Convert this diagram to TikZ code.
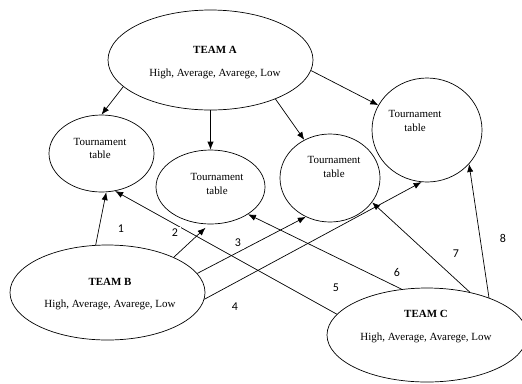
\documentclass[tikz,border=0pt]{standalone}
\usepackage{fontspec}
\setmainfont{Liberation Serif}
\newfontfamily\numfont{Carlito}
\usetikzlibrary{arrows.meta,shapes.geometric}
\tikzset{
  flow/.style={-{Latex[length=2.8mm,width=2.2mm]},line width=0.7pt,draw=black},
  team/.style={draw=black,ellipse,line width=0.7pt,inner sep=0pt},
  tally/.style={draw=black,ellipse,line width=0.7pt,inner sep=0pt},
  txt/.style={align=center,font=\fontsize{11}{13.5}\selectfont,inner sep=0pt},
  num/.style={font=\numfont\fontsize{12}{14}\selectfont,fill=white,inner sep=2.5pt}
}
\begin{document}
\begin{tikzpicture}[x=1bp,y=-1bp]
  \useasboundingbox (0,0) rectangle (522,383);
  % teams
  \node[team,minimum width=205bp,minimum height=100bp] (teamA) at (210.5,60) {};
  \node[team,minimum width=195bp,minimum height=95bp] (teamB) at (107.5,292.5) {};
  \node[team,minimum width=200bp,minimum height=94bp] (teamC) at (427,335) {};
  % tournament tables
  \node[tally,minimum width=105bp,minimum height=77bp] (tabA) at (101.5,153.5) {};
  \node[tally,minimum width=109bp,minimum height=74bp] (tabB) at (210.5,187) {};
  \node[tally,minimum width=100bp,minimum height=88bp] (tabC) at (330,178) {};
  \node[tally,minimum width=110bp,minimum height=104bp] (tabD) at (427,130) {};
  % texts
  \node[txt] (nameA) at (215,50) {\textbf{TEAM A}};
  \node[txt] (levA) at (215,74) {High, Average, Avarege, Low};
  \node[txt] (nameB) at (110,282) {\textbf{TEAM B}};
  \node[txt] (levB) at (110,305) {High, Average, Avarege, Low};
  \node[txt] (nameC) at (426,314) {\textbf{TEAM C}};
  \node[txt] (levC) at (426,338) {High, Average, Avarege, Low};
  \node[txt] (capA) at (100,148.5) {Tournament\\table};
  \node[txt] (capB) at (217,184) {Tournament\\table};
  \node[txt] (capC) at (334,167) {Tournament\\table};
  \node[txt] (capD) at (415,121) {Tournament\\table};
  % team A to the tables
  \draw[flow] (teamA.197.7) -- (tabA.north);
  \draw[flow] (teamA.south) -- (tabB.north);
  \draw[flow] (teamA.329.5) -- (tabC.124);
  \draw[flow] (teamA.354) -- (tabD.153);
  % team B to the tables
  \draw[flow] (teamB.104) -- (tabA.277.5);
  \draw[flow,shorten >=5bp] (teamB.28.5) -- (tabB.268);
  \draw[flow] (teamB.12.6) -- (tabC.238);
  \draw[flow] (teamB.356.5) -- (tabD.264.5);
  % team C to the tables
  \draw[flow] (teamC.167) -- (tabA.290);
  \draw[flow] (teamC.119) -- (tabB.324);
  \draw[flow] (teamC.45) -- (tabC.330.7);
  \draw[flow] (teamC.31) -- (tabD.321);
  % numbers
  \node[num] (n1) at (121,229) {1};
  \node[num] (n2) at (175,233) {2};
  \node[num] (n3) at (238,243) {3};
  \node[num] (n4) at (235,307) {4};
  \node[num] (n5) at (336,288) {5};
  \node[num] (n6) at (397,272) {6};
  \node[num] (n7) at (456,254) {7};
  \node[num] (n8) at (503,238) {8};
\end{tikzpicture}
\end{document}
